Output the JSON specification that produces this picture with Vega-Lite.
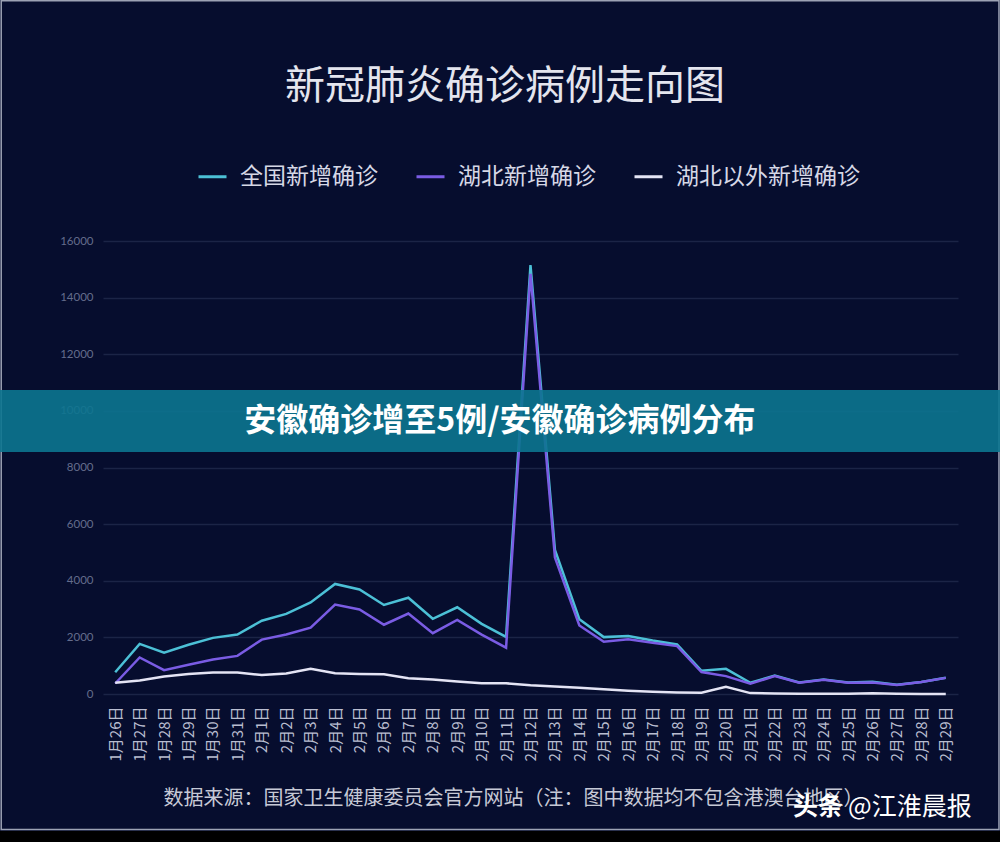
{
  "$schema": "https://vega.github.io/schema/vega-lite/v6.json",
  "width": 855,
  "height": 453,
  "autosize": {"type": "none"},
  "padding": {"left": 103, "right": 42, "top": 241, "bottom": 148},
  "background": "#060d2e",
  "config": {
    "view": {"stroke": null},
    "axisX": {
      "domain": false,
      "ticks": false,
      "grid": false,
      "labelAngle": 270,
      "labelFont": "Noto Sans CJK SC",
      "labelFontSize": 15,
      "labelColor": "#b9bdd0",
      "labelPadding": 12,
      "labelFlush": false,
      "labelOverlap": false,
      "titleFont": "Noto Sans CJK SC",
      "titleFontSize": 20,
      "titleFontWeight": "normal",
      "titleColor": "#c6c9d6",
      "titleX": 410,
      "titleY": 104,
      "titleBaseline": "middle",
      "titleAnchor": "middle",
      "titleAlign": "center"
    },
    "axisY": {
      "domain": false,
      "ticks": false,
      "grid": true,
      "gridColor": "#1b2446",
      "gridWidth": 1.5,
      "labelFont": "Lato",
      "labelFontSize": 11.5,
      "labelColor": "#646c8c",
      "labelPadding": 10
    },
    "legend": {
      "orient": "none",
      "legendX": 94,
      "legendY": -80,
      "direction": "horizontal",
      "symbolType": "stroke",
      "symbolSize": 784,
      "symbolStrokeWidth": 3,
      "labelFont": "Noto Sans CJK SC",
      "labelFontSize": 23,
      "labelColor": "#d6d8e6",
      "labelOffset": 12,
      "columnPadding": 32,
      "labelLimit": 400
    }
  },
  "data": {
    "values": [
      {"d": "2020-01-26T00:00:00", "全国新增确诊": 769, "湖北新增确诊": 371, "湖北以外新增确诊": 398},
      {"d": "2020-01-27T00:00:00", "全国新增确诊": 1771, "湖北新增确诊": 1291, "湖北以外新增确诊": 480},
      {"d": "2020-01-28T00:00:00", "全国新增确诊": 1459, "湖北新增确诊": 840, "湖北以外新增确诊": 619},
      {"d": "2020-01-29T00:00:00", "全国新增确诊": 1737, "湖北新增确诊": 1032, "湖北以外新增确诊": 705},
      {"d": "2020-01-30T00:00:00", "全国新增确诊": 1982, "湖北新增确诊": 1220, "湖北以外新增确诊": 762},
      {"d": "2020-01-31T00:00:00", "全国新增确诊": 2102, "湖北新增确诊": 1347, "湖北以外新增确诊": 755},
      {"d": "2020-02-01T00:00:00", "全国新增确诊": 2590, "湖北新增确诊": 1921, "湖北以外新增确诊": 669},
      {"d": "2020-02-02T00:00:00", "全国新增确诊": 2829, "湖北新增确诊": 2103, "湖北以外新增确诊": 726},
      {"d": "2020-02-03T00:00:00", "全国新增确诊": 3235, "湖北新增确诊": 2345, "湖北以外新增确诊": 890},
      {"d": "2020-02-04T00:00:00", "全国新增确诊": 3887, "湖北新增确诊": 3156, "湖北以外新增确诊": 731},
      {"d": "2020-02-05T00:00:00", "全国新增确诊": 3694, "湖北新增确诊": 2987, "湖北以外新增确诊": 707},
      {"d": "2020-02-06T00:00:00", "全国新增确诊": 3143, "湖北新增确诊": 2447, "湖北以外新增确诊": 696},
      {"d": "2020-02-07T00:00:00", "全国新增确诊": 3399, "湖北新增确诊": 2841, "湖北以外新增确诊": 558},
      {"d": "2020-02-08T00:00:00", "全国新增确诊": 2656, "湖北新增确诊": 2147, "湖北以外新增确诊": 509},
      {"d": "2020-02-09T00:00:00", "全国新增确诊": 3062, "湖北新增确诊": 2618, "湖北以外新增确诊": 444},
      {"d": "2020-02-10T00:00:00", "全国新增确诊": 2478, "湖北新增确诊": 2097, "湖北以外新增确诊": 381},
      {"d": "2020-02-11T00:00:00", "全国新增确诊": 2015, "湖北新增确诊": 1638, "湖北以外新增确诊": 377},
      {"d": "2020-02-12T00:00:00", "全国新增确诊": 15152, "湖北新增确诊": 14840, "湖北以外新增确诊": 312},
      {"d": "2020-02-13T00:00:00", "全国新增确诊": 5090, "湖北新增确诊": 4823, "湖北以外新增确诊": 267},
      {"d": "2020-02-14T00:00:00", "全国新增确诊": 2641, "湖北新增确诊": 2420, "湖北以外新增确诊": 221},
      {"d": "2020-02-15T00:00:00", "全国新增确诊": 2009, "湖北新增确诊": 1843, "湖北以外新增确诊": 166},
      {"d": "2020-02-16T00:00:00", "全国新增确诊": 2048, "湖北新增确诊": 1933, "湖北以外新增确诊": 115},
      {"d": "2020-02-17T00:00:00", "全国新增确诊": 1886, "湖北新增确诊": 1807, "湖北以外新增确诊": 79},
      {"d": "2020-02-18T00:00:00", "全国新增确诊": 1749, "湖北新增确诊": 1693, "湖北以外新增确诊": 56},
      {"d": "2020-02-19T00:00:00", "全国新增确诊": 820, "湖北新增确诊": 775, "湖北以外新增确诊": 45},
      {"d": "2020-02-20T00:00:00", "全国新增确诊": 889, "湖北新增确诊": 631, "湖北以外新增确诊": 258},
      {"d": "2020-02-21T00:00:00", "全国新增确诊": 397, "湖北新增确诊": 366, "湖北以外新增确诊": 31},
      {"d": "2020-02-22T00:00:00", "全国新增确诊": 648, "湖北新增确诊": 630, "湖北以外新增确诊": 18},
      {"d": "2020-02-23T00:00:00", "全国新增确诊": 409, "湖北新增确诊": 398, "湖北以外新增确诊": 11},
      {"d": "2020-02-24T00:00:00", "全国新增确诊": 508, "湖北新增确诊": 499, "湖北以外新增确诊": 9},
      {"d": "2020-02-25T00:00:00", "全国新增确诊": 406, "湖北新增确诊": 401, "湖北以外新增确诊": 5},
      {"d": "2020-02-26T00:00:00", "全国新增确诊": 433, "湖北新增确诊": 409, "湖北以外新增确诊": 24},
      {"d": "2020-02-27T00:00:00", "全国新增确诊": 327, "湖北新增确诊": 318, "湖北以外新增确诊": 9},
      {"d": "2020-02-28T00:00:00", "全国新增确诊": 427, "湖北新增确诊": 423, "湖北以外新增确诊": 4},
      {"d": "2020-02-29T00:00:00", "全国新增确诊": 573, "湖北新增确诊": 570, "湖北以外新增确诊": 3}
    ]
  },
  "layer": [
    {
      "transform": [
        {"fold": ["全国新增确诊", "湖北新增确诊", "湖北以外新增确诊"], "as": ["series", "value"]}
      ],
      "mark": {"type": "line", "strokeWidth": 2.5},
      "encoding": {
        "x": {
          "field": "d",
          "type": "temporal",
          "scale": {"domain": [{"year": 2020, "month": 1, "date": 25, "hours": 12}, {"year": 2020, "month": 2, "date": 29, "hours": 12}], "nice": false},
          "axis": {
            "title": "数据来源：国家卫生健康委员会官方网站（注：图中数据均不包含港澳台地区）",
            "format": "%-m月%-d日",
            "tickCount": {"interval": "day", "step": 1}
          }
        },
        "y": {
          "field": "value",
          "type": "quantitative",
          "scale": {"domain": [0, 16000], "nice": false},
          "axis": {"title": null, "format": "d", "values": [0, 2000, 4000, 6000, 8000, 10000, 12000, 14000, 16000]}
        },
        "color": {
          "field": "series",
          "type": "nominal",
          "scale": {
            "domain": ["全国新增确诊", "湖北新增确诊", "湖北以外新增确诊"],
            "range": ["#4cc0d6", "#7a5ce4", "#e4e4f4"]
          },
          "legend": {"title": null}
        },
        "order": {"field": "d", "type": "temporal"}
      }
    },
    {
      "data": {"values": [{}]},
      "mark": {"type": "rect", "fill": "#000000", "clip": false},
      "encoding": {
        "x": {"datum": {"year": 2020, "month": 1, "date": 15}, "type": "temporal"},
        "x2": {"datum": {"year": 2020, "month": 3, "date": 10}},
        "y": {"datum": -4835, "type": "quantitative"},
        "y2": {"datum": -6500}
      }
    },
    {
      "data": {"values": [{}]},
      "mark": {"type": "rect", "fillOpacity": 0, "stroke": "#9ca2b4", "strokeWidth": 1.5, "clip": false},
      "encoding": {
        "x": {"datum": {"year": 2020, "month": 1, "date": 21, "hours": 8, "minutes": 0}, "type": "temporal"},
        "x2": {"datum": {"year": 2020, "month": 3, "date": 2, "hours": 4, "minutes": 15}},
        "y": {"datum": 24486, "type": "quantitative"},
        "y2": {"datum": -4790}
      }
    },
    {
      "data": {"values": [{}]},
      "mark": {"type": "text", "text": "新冠肺炎确诊病例走向图", "font": "Noto Sans CJK SC", "fontSize": 40, "fontWeight": "normal", "color": "#e4e5ee", "align": "center", "baseline": "middle", "clip": false},
      "encoding": {
        "x": {"datum": {"year": 2020, "month": 2, "date": 10, "hours": 23}, "type": "temporal"},
        "y": {"datum": 21439, "type": "quantitative"}
      }
    },
    {
      "data": {"values": [{}]},
      "mark": {"type": "rect", "fill": "#0c7590", "opacity": 0.9, "clip": false},
      "encoding": {
        "x": {"datum": {"year": 2020, "month": 1, "date": 15}, "type": "temporal"},
        "x2": {"datum": {"year": 2020, "month": 3, "date": 10}},
        "y": {"datum": 10737, "type": "quantitative"},
        "y2": {"datum": 8547}
      }
    },
    {
      "data": {"values": [{}]},
      "mark": {"type": "text", "text": "安徽确诊增至5例/安徽确诊病例分布", "font": "Noto Sans CJK SC", "fontSize": 32, "fontWeight": "bold", "color": "#ffffff", "align": "center", "baseline": "middle", "clip": false},
      "encoding": {
        "x": {"datum": {"year": 2020, "month": 2, "date": 10, "hours": 18}, "type": "temporal"},
        "y": {"datum": 9642, "type": "quantitative"}
      }
    },
    {
      "data": {"values": [{}]},
      "mark": {"type": "text", "text": "头条", "font": "Noto Sans CJK SC", "fontSize": 25, "fontWeight": "bold", "color": "#ffffff", "align": "left", "baseline": "middle", "clip": false},
      "encoding": {
        "x": {"datum": {"year": 2020, "month": 2, "date": 22, "hours": 18}, "type": "temporal"},
        "y": {"datum": -3991, "type": "quantitative"}
      }
    },
    {
      "data": {"values": [{}]},
      "mark": {"type": "text", "text": "@江淮晨报", "font": "Noto Sans CJK SC", "fontSize": 25, "fontWeight": "normal", "color": "#ffffff", "align": "left", "baseline": "middle", "clip": false},
      "encoding": {
        "x": {"datum": {"year": 2020, "month": 2, "date": 25, "hours": 0}, "type": "temporal"},
        "y": {"datum": -3991, "type": "quantitative"}
      }
    }
  ]
}
